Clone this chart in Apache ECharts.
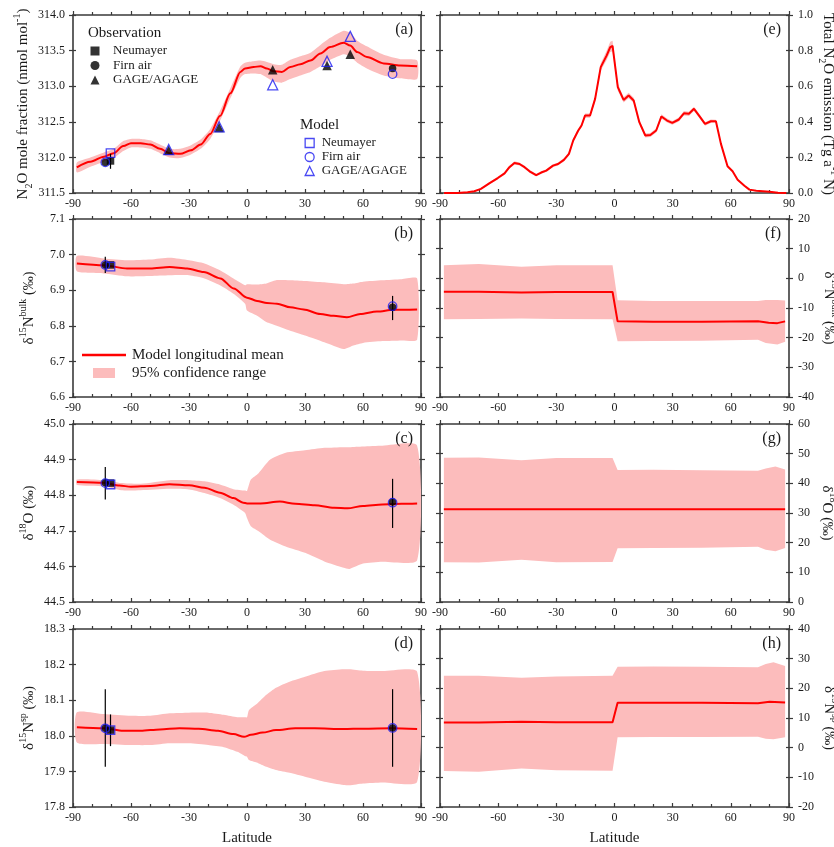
<!DOCTYPE html>
<html><head><meta charset="utf-8">
<script src="https://cdn.jsdelivr.net/npm/echarts@6/dist/echarts.min.js"></script>
<style>html,body{margin:0;padding:0;background:#fff}#c{width:834px;height:847px}</style>
</head><body><div id="c"></div>
<script>
// ---------------- DATA ----------------
// (a) N2O mole fraction
const latA = [-88,-81,-74,-69,-64,-60,-55,-50,-45,-40,-34.5,-29,-24,-19,-14,-8.6,-3.4,-1,3.4,7,10.3,13.8,18,22.4,27.6,32.8,38,43,50,53.4,57,62,70.7,79.3,88];
const n2oMean = [311.86,311.94,312.01,312.06,312.16,312.2,312.2,312.18,312.12,312.06,312.05,312.1,312.18,312.33,312.58,312.9,313.2,313.25,313.27,313.28,313.25,313.21,313.2,313.27,313.31,313.36,313.46,313.55,313.61,313.57,313.48,313.41,313.32,313.29,313.28];
const n2oUpper = [311.93,312.0,312.07,312.12,312.23,312.26,312.26,312.24,312.18,312.12,312.12,312.17,312.25,312.4,312.65,312.97,313.28,313.33,313.35,313.36,313.34,313.31,313.30,313.37,313.42,313.47,313.58,313.68,313.78,313.75,313.64,313.56,313.44,313.38,313.36];
const n2oLower = [311.79,311.87,311.94,311.99,312.09,312.14,312.14,312.12,312.06,312.0,311.99,312.04,312.12,312.26,312.51,312.83,313.12,313.17,313.18,313.17,313.12,313.07,313.05,313.10,313.15,313.2,313.28,313.37,313.45,313.42,313.33,313.25,313.15,313.11,313.10];
// station latitudes
const latNeumayer = [-70.6];
const latFirn = [-73.3, 75.3];
const latGage = [-40.5, -14.4, 13.3, 41.4, 53.4];
const obsNeumayerA = [311.95], obsFirnA = [311.93, 313.25], obsGageA = [312.10, 312.42, 313.23, 313.29, 313.45];
const modNeumayerA = [312.06], modFirnA = [311.93, 313.17], modGageA = [312.11, 312.43, 313.02, 313.35, 313.70];
const errLatA = [-70.6], errLoA = [311.84], errHiA = [312.05];

// (b) d15N bulk
const latB = [-88,-74,-62,-50,-40,-31,-22.4,-13.8,-6.9,0,5.2,10.3,15.5,22.4,29.3,37.9,44.8,51.7,58.6,67.2,75.8,88];
const bMean = [6.975,6.970,6.961,6.961,6.965,6.961,6.951,6.933,6.905,6.879,6.870,6.864,6.862,6.852,6.846,6.833,6.828,6.824,6.833,6.840,6.845,6.846];
const bandLatB = [-88,-74,-62,-50,-40,-30,-22,-14,-7,-1,0,5,10,15,22,30,40,50,55,60,70,80,88];
const bUpper = [6.996,6.989,6.984,6.986,6.991,6.984,6.975,6.956,6.933,6.914,6.917,6.916,6.919,6.928,6.928,6.926,6.922,6.917,6.919,6.924,6.928,6.931,6.933];
const bLower = [6.953,6.947,6.939,6.940,6.942,6.942,6.933,6.914,6.890,6.862,6.843,6.829,6.811,6.801,6.787,6.773,6.754,6.735,6.745,6.752,6.757,6.759,6.761];
const obsNeumayerB = [6.971], obsFirnB = [6.971, 6.852], modNeumayerB = [6.966], modFirnB = [6.971, 6.855];
const errLatB = [-73.3, 75.3], errLoB = [6.948, 6.816], errHiB = [6.994, 6.884];

// (c) d18O
const latC = [-88,-74,-66,-60,-50,-40,-30,-22,-14,-7,-2,0,7,17,25,35,45,52,60,70,80,88];
const cMean = [44.837,44.835,44.827,44.824,44.826,44.831,44.828,44.821,44.807,44.792,44.779,44.777,44.777,44.782,44.776,44.772,44.765,44.763,44.770,44.774,44.776,44.777];
const bandLatC = [-88,-74,-65,-55,-40,-30,-22,-14,-7,-1,0,2,6,12,20,30,40,50,53,60,70,88];
const cUpper = [44.844,44.842,44.834,44.832,44.842,44.842,44.839,44.830,44.817,44.813,44.812,44.844,44.862,44.900,44.919,44.926,44.933,44.935,44.935,44.937,44.939,44.939];
const cLower = [44.829,44.825,44.814,44.814,44.818,44.816,44.806,44.792,44.773,44.750,44.736,44.713,44.699,44.675,44.656,44.638,44.614,44.596,44.593,44.608,44.613,44.617];
const obsNeumayerC = [44.834], obsFirnC = [44.835, 44.781], modNeumayerC = [44.830], modFirnC = [44.834, 44.779];
const errLatC = [-73.3, 75.3], errLoC = [44.788, 44.708], errHiC = [44.879, 44.846];

// (d) d15N sp
const latD = [-88,-74,-64,-55,-45,-35,-25,-15,-7,-1.5,2,8,15,25,35,50,60,75,88];
const dMean = [18.024,18.021,18.014,18.014,18.018,18.021,18.020,18.014,18.005,17.997,18.003,18.009,18.016,18.021,18.021,18.019,18.020,18.021,18.019];
const bandLatD = [-88,-74,-60,-50,-40,-30,-20,-12,-5,-1,0,1,5,10,15,22,30,40,50,53,60,70,88];
const dUpper = [18.066,18.061,18.056,18.056,18.063,18.065,18.065,18.059,18.052,18.052,18.052,18.072,18.089,18.115,18.135,18.152,18.166,18.182,18.187,18.187,18.183,18.182,18.180];
const dLower = [17.981,17.977,17.974,17.974,17.979,17.979,17.974,17.968,17.955,17.943,17.941,17.932,17.925,17.913,17.904,17.896,17.885,17.871,17.862,17.861,17.866,17.869,17.871];
const obsNeumayerD = [18.016], obsFirnD = [18.021, 18.022], modNeumayerD = [18.016], modFirnD = [18.021, 18.022];
const errLatD = [-73.3, -70.6, 75.3], errLoD = [17.913, 17.971, 17.913], errHiD = [18.131, 18.060, 18.131];

// (e) total N2O emission
const latE = [-87.9,-81,-75.8,-72.3,-68.9,-64.6,-60.2,-56.7,-54.2,-51.6,-49,-46.4,-43.8,-40.4,-37.8,-35.2,-31.7,-29.1,-26.1,-23.5,-21.3,-18.7,-17,-15.2,-12.6,-10,-7.1,-4,-2.2,-1,1.7,4.7,7.3,9.9,12.8,15.9,18.5,21.5,24.2,27.1,29.8,33.2,35.8,38.4,41,43.6,46.7,49.7,52.3,54.9,58.3,60.9,63.5,67,69.6,73.1,80,84.3,88.6];
const eMean = [0,0,0.004,0.01,0.023,0.054,0.084,0.11,0.145,0.169,0.163,0.145,0.122,0.1,0.115,0.126,0.154,0.163,0.186,0.22,0.295,0.351,0.379,0.435,0.435,0.529,0.707,0.773,0.82,0.826,0.595,0.523,0.548,0.52,0.398,0.323,0.326,0.351,0.43,0.407,0.394,0.413,0.448,0.445,0.473,0.435,0.388,0.403,0.403,0.276,0.15,0.122,0.075,0.041,0.019,0.013,0.0075,0.002,0];
const eUpper = [0,0,0.006,0.013,0.027,0.06,0.091,0.118,0.154,0.178,0.172,0.153,0.13,0.107,0.122,0.134,0.162,0.171,0.195,0.229,0.305,0.361,0.39,0.447,0.447,0.545,0.728,0.8,0.85,0.855,0.615,0.538,0.563,0.535,0.41,0.334,0.337,0.362,0.442,0.418,0.405,0.424,0.46,0.457,0.485,0.446,0.398,0.413,0.412,0.284,0.157,0.128,0.08,0.045,0.022,0.015,0.009,0.003,0];
const eLower = [0,0,0.002,0.007,0.019,0.048,0.077,0.102,0.136,0.16,0.154,0.137,0.114,0.093,0.108,0.118,0.146,0.155,0.177,0.211,0.285,0.341,0.368,0.423,0.423,0.513,0.688,0.748,0.792,0.797,0.575,0.508,0.533,0.505,0.386,0.312,0.315,0.34,0.418,0.396,0.383,0.402,0.436,0.433,0.461,0.424,0.378,0.393,0.394,0.268,0.143,0.116,0.07,0.037,0.016,0.011,0.006,0.001,0];

// (f) source d15N bulk
const latF = [-88,-70,-48,-30,-1,1.6,20,45,74,79.5,84,88];
const fMean = [-4.5,-4.5,-4.8,-4.6,-4.6,-14.5,-14.6,-14.6,-14.5,-15.0,-15.1,-14.5];
const bandLatF = [-88,-70,-48,-30,-1,1.6,20,45,74,78,84,88];
const fUpper = [4.4,4.8,3.9,4.4,4.4,-7.4,-7.6,-7.6,-7.6,-7.3,-7.3,-7.5];
const fLower = [-13.8,-13.7,-13.5,-13.7,-13.8,-21.2,-21.1,-21.0,-20.7,-21.8,-22.3,-21.4];

// (g) source d18O
const latG = [-88,-60,-30,-1,1.6,30,60,88];
const gMean = [31.3,31.3,31.3,31.3,31.3,31.3,31.3,31.3];
const bandLatG = [-88,-70,-48,-30,-1,1.6,20,45,74,78,83,88];
const gUpper = [48.6,48.7,47.8,48.5,48.5,44.5,44.6,44.4,44.2,45.0,45.7,44.7];
const gLower = [13.4,13.3,14.2,13.4,13.5,18.1,18.2,18.3,18.6,17.6,17.1,18.2];

// (h) source d15N sp
const latH = [-88,-70,-48,-30,-1,1.6,20,45,74,80,88];
const hMean = [8.5,8.5,8.7,8.6,8.6,15.1,15.1,15.1,15.0,15.5,15.2];
const bandLatH = [-88,-70,-48,-30,-1,1.6,20,45,74,78,82,88];
const hUpper = [24.2,24.2,23.6,24.0,24.2,27.3,27.4,27.3,27.1,28.2,28.8,27.5];
const hLower = [-7.9,-8.1,-7.0,-7.6,-7.8,3.5,3.6,3.6,3.7,3.0,2.8,3.5];

// ---------------- STYLE / LAYOUT ----------------
const FONT = '"Liberation Serif", "Times New Roman", serif';
const TXT = '#1a1a1a';
const AX = '#3a3a3a';
const RED = '#ff0000';
const PINK = '#fcbcbc';
const BLUE = '#1c1cf0';
const W = 834;
const gridLeft = [73, 440], gridWidth = [348, 349], gridTop = [15, 219, 424, 629], gridH = 178;

const pts = (xs, ys) => xs.map((x, k) => [x, ys[k]]);

const panels = [
  {id:'a', col:0, row:0, y:[311.5,314.0,0.5], dec:1, title:'N{sub|2}O mole fraction (nmol mol{sup|-1})', lat:latA, mean:n2oMean, bLat:latA, up:n2oUpper, lo:n2oLower, smooth:0.3,
   pts:[['Obs Neumayer','obs','rect',latNeumayer,obsNeumayerA],['Obs Firn air','obs','circle',latFirn,obsFirnA],['Obs GAGE/AGAGE','obs','triangle',latGage,obsGageA],
        ['Model Neumayer','mod','rect',latNeumayer,modNeumayerA],['Model Firn air','mod','circle',latFirn,modFirnA],['Model GAGE/AGAGE','mod','triangle',latGage,modGageA]],
   err:[errLatA,errLoA,errHiA]},
  {id:'b', col:0, row:1, y:[6.6,7.1,0.1], dec:1, title:'δ{sup|15}N{sup|bulk} {pm|(‰)}', lat:latB, mean:bMean, bLat:bandLatB, up:bUpper, lo:bLower, smooth:0.3,
   pts:[['b obs neu','obs','rect',latNeumayer,obsNeumayerB],['b obs firn','obs','circle',latFirn,obsFirnB],['b mod neu','mod','rect',latNeumayer,modNeumayerB],['b mod firn','mod','circle',latFirn,modFirnB]],
   err:[errLatB,errLoB,errHiB]},
  {id:'c', col:0, row:2, y:[44.5,45.0,0.1], dec:1, title:'δ{sup|18}O {pm|(‰)}', lat:latC, mean:cMean, bLat:bandLatC, up:cUpper, lo:cLower, smooth:0.3,
   pts:[['c obs neu','obs','rect',latNeumayer,obsNeumayerC],['c obs firn','obs','circle',latFirn,obsFirnC],['c mod neu','mod','rect',latNeumayer,modNeumayerC],['c mod firn','mod','circle',latFirn,modFirnC]],
   err:[errLatC,errLoC,errHiC]},
  {id:'d', col:0, row:3, y:[17.8,18.3,0.1], dec:1, title:'δ{sup|15}N{sup|sp} {pm|(‰)}', lat:latD, mean:dMean, bLat:bandLatD, up:dUpper, lo:dLower, smooth:0.3,
   pts:[['d obs neu','obs','rect',latNeumayer,obsNeumayerD],['d obs firn','obs','circle',latFirn,obsFirnD],['d mod neu','mod','rect',latNeumayer,modNeumayerD],['d mod firn','mod','circle',latFirn,modFirnD]],
   err:[errLatD,errLoD,errHiD]},
  {id:'e', col:1, row:0, y:[0,1.0,0.2], dec:1, title:'Total N{sub|2}O emission (Tg a{sup|-1} N)', lat:latE, mean:eMean, bLat:latE, up:eUpper, lo:eLower, smooth:0, pts:[], err:null},
  {id:'f', col:1, row:1, y:[-40,20,10], dec:0, title:'δ{sup|15}N{sup|bulk} {pm|(‰)}', lat:latF, mean:fMean, bLat:bandLatF, up:fUpper, lo:fLower, smooth:0, pts:[], err:null},
  {id:'g', col:1, row:2, y:[0,60,10], dec:0, title:'δ{sup|18}O {pm|(‰)}', lat:latG, mean:gMean, bLat:bandLatG, up:gUpper, lo:gLower, smooth:0, pts:[], err:null},
  {id:'h', col:1, row:3, y:[-20,40,10], dec:0, title:'δ{sup|15}N{sup|sp} {pm|(‰)}', lat:latH, mean:hMean, bLat:bandLatH, up:hUpper, lo:hLower, smooth:0, pts:[], err:null},
];

const nameTextStyle = {
  fontSize: 15, fontFamily: FONT, color: TXT, lineHeight: 22,
  rich: {
    sub: {fontSize: 10, lineHeight: 12, verticalAlign: 'bottom', fontFamily: FONT, color: TXT},
    sup: {fontSize: 10, lineHeight: 12, verticalAlign: 'top', fontFamily: FONT, color: TXT},
    pm: {fontSize: 14, fontFamily: FONT, color: TXT}
  }
};
const lineSt = {color: AX, width: 1.6};
const tickSt = {color: AX, width: 1.2};
const labelSt = {fontSize: 12, fontFamily: FONT, color: TXT};

const grid = [], xAxis = [], yAxis = [], series = [], title = [];

panels.forEach((p, i) => {
  const left = gridLeft[p.col], width = gridWidth[p.col], top = gridTop[p.row];
  grid.push({left, top, width, height: gridH, containLabel: false, outerBoundsMode: 'none'});
  const baseX = {type: 'value', gridIndex: i, min: -90, max: 90, interval: 30, splitLine: {show: false}, minorSplitLine: {show: false}};
  xAxis.push(Object.assign({}, baseX, {
    position: 'bottom',
    axisLine: {show: true, onZero: false, lineStyle: lineSt},
    axisTick: {show: true, inside: true, length: 4, lineStyle: tickSt},
    minorTick: {show: true, splitNumber: 3, length: 3, lineStyle: tickSt},
    axisLabel: Object.assign({show: true, margin: 5}, labelSt),
    name: p.row === 3 ? 'Latitude' : '', nameLocation: 'middle', nameGap: 24,
    nameTextStyle: {fontSize: 15, fontFamily: FONT, color: TXT}
  }));
  xAxis.push(Object.assign({}, baseX, {
    position: 'top',
    axisLine: {show: true, onZero: false, lineStyle: lineSt},
    axisTick: {show: true, inside: false, length: 4, lineStyle: tickSt},
    minorTick: {show: true, splitNumber: 3, length: 3, lineStyle: tickSt},
    axisLabel: {show: false}
  }));
  const fmt = v => v.toFixed(p.dec);
  const baseY = {type: 'value', gridIndex: i, min: p.y[0], max: p.y[1], interval: p.y[2], splitLine: {show: false}};
  yAxis.push(Object.assign({}, baseY, {
    position: 'left',
    axisLine: {show: true, onZero: false, lineStyle: lineSt},
    axisTick: {show: true, inside: false, length: 4, lineStyle: tickSt},
    axisLabel: Object.assign({show: p.col === 0, margin: 8, formatter: fmt}, labelSt),
    name: p.col === 0 ? p.title : '', nameLocation: 'middle', nameRotate: 90, nameGap: 33, nameTextStyle
  }));
  yAxis.push(Object.assign({}, baseY, {
    position: 'left',
    axisLine: {show: false, onZero: false},
    axisTick: {show: true, inside: true, length: 3, lineStyle: tickSt},
    axisLabel: {show: false}
  }));
  yAxis.push(Object.assign({}, baseY, {
    position: 'right',
    axisLine: {show: true, onZero: false, lineStyle: lineSt},
    axisTick: {show: true, inside: false, length: 4, lineStyle: tickSt},
    axisLabel: Object.assign({show: p.col === 1, margin: 9, formatter: fmt}, labelSt),
    name: p.col === 1 ? p.title : '', nameLocation: 'middle', nameRotate: -90, nameGap: 27, nameTextStyle
  }));
  yAxis.push(Object.assign({}, baseY, {
    position: 'right',
    axisLine: {show: false, onZero: false},
    axisTick: {show: true, inside: true, length: 3, lineStyle: tickSt},
    axisLabel: {show: false}
  }));

  const xi = 2 * i, yi = 4 * i;
  // 95% confidence band as one polygon (upper edge forward, lower edge back)
  series.push({
    type: 'custom', name: p.id === 'b' ? '95% confidence range' : 'band-' + p.id,
    xAxisIndex: xi, yAxisIndex: yi, silent: true, z: 1, clip: true,
    itemStyle: {color: PINK},
    data: p.bLat.map((x, k) => [x, p.lo[k], p.up[k]]),
    encode: {x: 0, y: [1, 2]},
    renderItem: (params, api) => {
      if (params.dataIndex !== 0) return null;
      const upper = p.bLat.map((x, k) => api.coord([x, p.up[k]]));
      const lower = p.bLat.map((x, k) => api.coord([x, p.lo[k]])).reverse();
      return {type: 'polygon', shape: {points: upper.concat(lower), smooth: p.smooth ? 0.2 : 0}, style: {fill: PINK, stroke: null}};
    }
  });
  // mean line
  series.push({
    type: 'line', name: p.id === 'b' ? 'Model longitudinal mean' : 'mean-' + p.id, xAxisIndex: xi, yAxisIndex: yi,
    data: pts(p.lat, p.mean), symbol: 'none', smooth: p.smooth || false, smoothMonotone: 'x',
    lineStyle: {color: RED, width: 2}, itemStyle: {color: RED}, silent: true, z: 3
  });
  // error bars
  if (p.err) {
    series.push({
      type: 'custom', name: 'err-' + p.id, xAxisIndex: xi, yAxisIndex: yi, silent: true, z: 4,
      data: p.err[0].map((x, k) => [x, p.err[1][k], p.err[2][k]]),
      encode: {x: 0, y: [1, 2]},
      renderItem: (params, api) => {
        const a = api.coord([api.value(0), api.value(1)]);
        const b = api.coord([api.value(0), api.value(2)]);
        return {type: 'line', shape: {x1: a[0], y1: a[1], x2: b[0], y2: b[1]}, style: {stroke: '#000', lineWidth: 1.2}};
      }
    });
  }
  // station markers
  p.pts.forEach(([name, kind, sym, xs, ys]) => {
    const isObs = kind === 'obs';
    series.push({
      type: 'scatter', name, xAxisIndex: xi, yAxisIndex: yi, silent: true,
      data: pts(xs, ys), symbol: sym,
      symbolSize: isObs ? (sym === 'triangle' ? 9.5 : 7.5) : (sym === 'triangle' ? 10 : 8.5),
      itemStyle: isObs ? {color: '#000'} : {color: 'rgba(0,0,0,0)', borderColor: BLUE, borderWidth: 1.3},
      z: isObs ? 5 : 6
    });
  });
  // panel label
  title.push({
    text: '(' + p.id + ')', right: W - (left + width - 8), top: top + 7, padding: 0,
    textStyle: {fontSize: 16, fontWeight: 'normal', fontFamily: FONT, color: TXT}
  });
});

title.push({text: 'Observation', left: 88, top: 26, padding: 0, textStyle: {fontSize: 15, fontWeight: 'normal', fontFamily: FONT, color: TXT}});
title.push({text: 'Model', left: 300, top: 118, padding: 0, textStyle: {fontSize: 15, fontWeight: 'normal', fontFamily: FONT, color: TXT}});

const strip = n => n.replace(/^(Obs|Model) /, '');
const legend = [
  {data: ['Obs Neumayer', 'Obs Firn air', 'Obs GAGE/AGAGE'], orient: 'vertical', left: 90.5, top: 44, padding: 0,
   itemWidth: 9, itemHeight: 9, itemGap: 0.5, formatter: strip, selectedMode: false,
   itemStyle: {borderWidth: 0},
   textStyle: {fontSize: 13, fontFamily: FONT, color: TXT, lineHeight: 14, padding: [0, 0, 0, 8.5]}},
  {data: ['Model Neumayer', 'Model Firn air', 'Model GAGE/AGAGE'], orient: 'vertical', left: 304.5, top: 136, padding: 0,
   itemWidth: 9, itemHeight: 9, itemGap: 0, formatter: strip, selectedMode: false,
   itemStyle: {borderWidth: 1.3},
   textStyle: {fontSize: 13, fontFamily: FONT, color: TXT, lineHeight: 14, padding: [0, 0, 0, 2.5]}},
  {data: [{name: 'Model longitudinal mean', icon: 'rect', itemStyle: {color: RED}}], left: 82, top: 347, padding: 0,
   itemWidth: 44, itemHeight: 2.5, selectedMode: false,
   textStyle: {fontSize: 15, fontFamily: FONT, color: TXT, lineHeight: 16, padding: [0, 0, 0, 1]}},
  {data: [{name: '95% confidence range', icon: 'rect', itemStyle: {color: PINK}}], left: 93, top: 365, padding: 0,
   itemWidth: 22, itemHeight: 10, selectedMode: false,
   textStyle: {fontSize: 15, fontFamily: FONT, color: TXT, lineHeight: 16, padding: [0, 0, 0, 12]}}
];

const chart = echarts.init(document.getElementById('c'), null, {renderer: 'canvas', width: 834, height: 847});
chart.setOption({
  animation: false,
  backgroundColor: '#fff',
  textStyle: {fontFamily: FONT},
  title, legend, grid, xAxis, yAxis, series
});
</script>
</body></html>
